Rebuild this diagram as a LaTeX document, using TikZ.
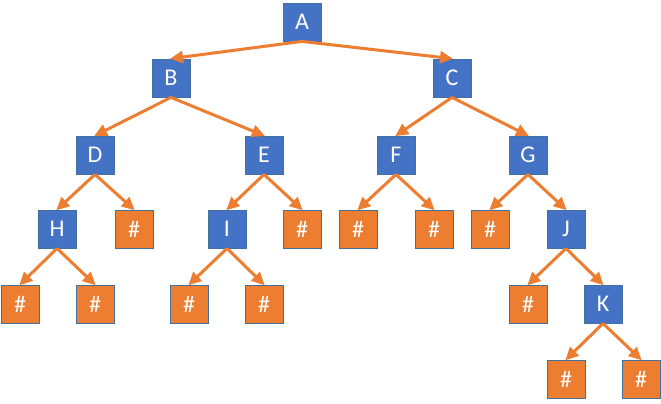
\documentclass[tikz,border=0pt]{standalone}
\usepackage{fontspec}
\setmainfont{Carlito}
\usetikzlibrary{arrows.meta}
\definecolor{nblue}{HTML}{4472C4}
\definecolor{norange}{HTML}{ED7D31}
\definecolor{nedge}{HTML}{41719C}
\tikzset{
  bnode/.style={draw=nedge, line width=0.8pt, fill=nblue, minimum size=38pt, inner sep=0pt, text=white, font=\fontsize{24}{24}\selectfont},
  onode/.style={draw=nedge, line width=0.8pt, fill=norange, minimum size=38pt, inner sep=0pt, text=white, font=\fontsize{24}{24}\selectfont},
  edge/.style={draw=norange, line width=3pt, -{Triangle[length=13pt,width=12pt]}, shorten >=-1pt}
}
\begin{document}
\begin{tikzpicture}[x=1pt,y=-1pt]
\useasboundingbox (0,0) rectangle (661,404);
\node[bnode] (A) at (302,22) {A};
\node[bnode] (B) at (171,78) {B};
\node[bnode] (C) at (452,78) {C};
\node[bnode] (D) at (95,155) {D};
\node[bnode] (E) at (264,155) {E};
\node[bnode] (F) at (396,155) {F};
\node[bnode] (G) at (528,155) {G};
\node[bnode] (H) at (57,229) {H};
\node[onode] (d2) at (134,229) {\#};
\node[bnode] (I) at (227,229) {I};
\node[onode] (e2) at (302,229) {\#};
\node[onode] (f1) at (358,229) {\#};
\node[onode] (f2) at (434,229) {\#};
\node[onode] (g1) at (490,229) {\#};
\node[bnode] (J) at (566,229) {J};
\node[onode] (h1) at (20,304) {\#};
\node[onode] (h2) at (95,304) {\#};
\node[onode] (i1) at (189,304) {\#};
\node[onode] (i2) at (264,304) {\#};
\node[onode] (j1) at (528,304) {\#};
\node[bnode] (K) at (603,304) {K};
\node[onode] (k1) at (566,379) {\#};
\node[onode] (k2) at (641,379) {\#};
\foreach \p/\c in {A/B,A/C,B/D,B/E,C/F,C/G,D/H,D/d2,E/I,E/e2,F/f1,F/f2,G/g1,G/J,H/h1,H/h2,I/i1,I/i2,J/j1,J/K,K/k1,K/k2}
  \draw[edge] (\p.south) -- (\c.north);
\end{tikzpicture}
\end{document}
